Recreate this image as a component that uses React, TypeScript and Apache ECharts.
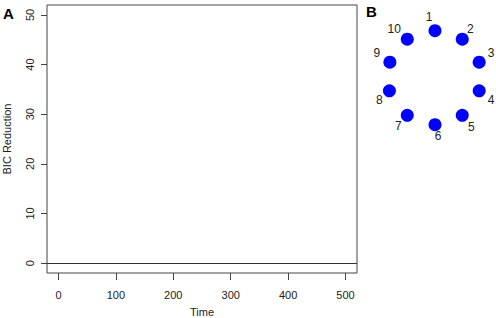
import React, { useEffect, useRef } from "react";
import * as echarts from "echarts";

// Panel A data
const xTicks = [0, 100, 200, 300, 400, 500];
const yTicks = [0, 10, 20, 30, 40, 50];
const xRange = [-20, 520];
const yRange = [-2, 52];
const bicReductionLevel = 0;

// Panel B data (node layout)
const nodeLabels = ["1", "2", "3", "4", "5", "6", "7", "8", "9", "10"];
const nodeX = [0, 0.58, 0.94, 0.94, 0.58, 0, -0.59, -0.97, -0.96, -0.59];
const nodeY = [1, 0.82, 0.33, -0.28, -0.8, -1, -0.8, -0.28, 0.33, 0.82];

// label offsets (styling)
const labelOffsets: [number, number][] = [
  [-6, -14], [8, -10], [12, -9], [12, 9], [9, 12],
  [3, 11], [-9, 11], [-10, 9], [-13, -9], [-13, -10],
];

const FONT = "'Liberation Sans', Arial, sans-serif";
const TXT = "#222";

export default function App() {
  const ref = useRef<HTMLDivElement>(null);
  useEffect(() => {
    if (!ref.current) return;
    const chart = echarts.init(ref.current, undefined, { renderer: "svg" });
    const option: any = {
      animation: false,
      backgroundColor: "#fff",
      textStyle: { fontFamily: FONT },
      grid: [
        {
          left: 47, top: 5, width: 310, height: 268,
          show: true, borderColor: "#444", borderWidth: 1,
          backgroundColor: "transparent",
          containLabel: false, outerBoundsMode: "none",
        },
        { left: 388, top: 30.7, width: 94, height: 94, show: false, containLabel: false, outerBoundsMode: "none" },
      ],
      xAxis: [
        {
          gridIndex: 0, type: "value", min: xRange[0], max: xRange[1],
          name: "Time", nameLocation: "middle", nameGap: 33,
          nameTextStyle: { fontSize: 11, color: TXT, fontFamily: FONT },
          axisLine: { show: false, onZero: false },
          splitLine: { show: false },
          axisTick: { show: true, length: 7, inside: false, customValues: xTicks, lineStyle: { color: "#444" } },
          axisLabel: { show: true, customValues: xTicks, margin: 16, fontSize: 11, color: TXT, fontFamily: FONT },
        },
        { gridIndex: 1, type: "value", min: -1, max: 1, show: false },
      ],
      yAxis: [
        {
          gridIndex: 0, type: "value", min: yRange[0], max: yRange[1],
          name: "BIC Reduction", nameLocation: "middle", nameGap: 35, nameRotate: 90,
          nameTextStyle: { fontSize: 11, color: TXT, fontFamily: FONT },
          axisLine: { show: false, onZero: false },
          splitLine: { show: false },
          axisTick: { show: true, length: 6, inside: false, customValues: yTicks, lineStyle: { color: "#444" } },
          axisLabel: { show: true, customValues: yTicks, rotate: 90, margin: 12, fontSize: 11, color: TXT, fontFamily: FONT },
        },
        { gridIndex: 1, type: "value", min: -1, max: 1, show: false },
      ],
      series: [
        {
          type: "line", xAxisIndex: 0, yAxisIndex: 0, data: [],
          markLine: {
            silent: true, symbol: "none", label: { show: false },
            lineStyle: { color: "#333", width: 1, type: "solid" },
            data: [{ yAxis: bicReductionLevel }],
          },
        },
        {
          type: "scatter", xAxisIndex: 1, yAxisIndex: 1,
          symbol: "circle", symbolSize: 13,
          itemStyle: { color: "#0000ff", opacity: 1 },
          data: nodeLabels.map((n, i) => ({
            value: [nodeX[i], nodeY[i]],
            name: n,
            label: {
              show: true, position: "inside", offset: labelOffsets[i],
              formatter: n, fontSize: 12, color: TXT, fontFamily: FONT,
            },
          })),
        },
      ],
      graphic: [
        { type: "text", left: 3, top: 6, style: { text: "A", font: `bold 15px ${FONT}`, fill: "#000" } },
        { type: "text", left: 366, top: 4, style: { text: "B", font: `bold 15px ${FONT}`, fill: "#000" } },
      ],
    };
    chart.setOption(option);
    return () => chart.dispose();
  }, []);
  return (
    <div
      ref={ref}
      style={{ position: "fixed", left: 0, top: 0, width: 496, height: 318 }}
    />
  );
}
